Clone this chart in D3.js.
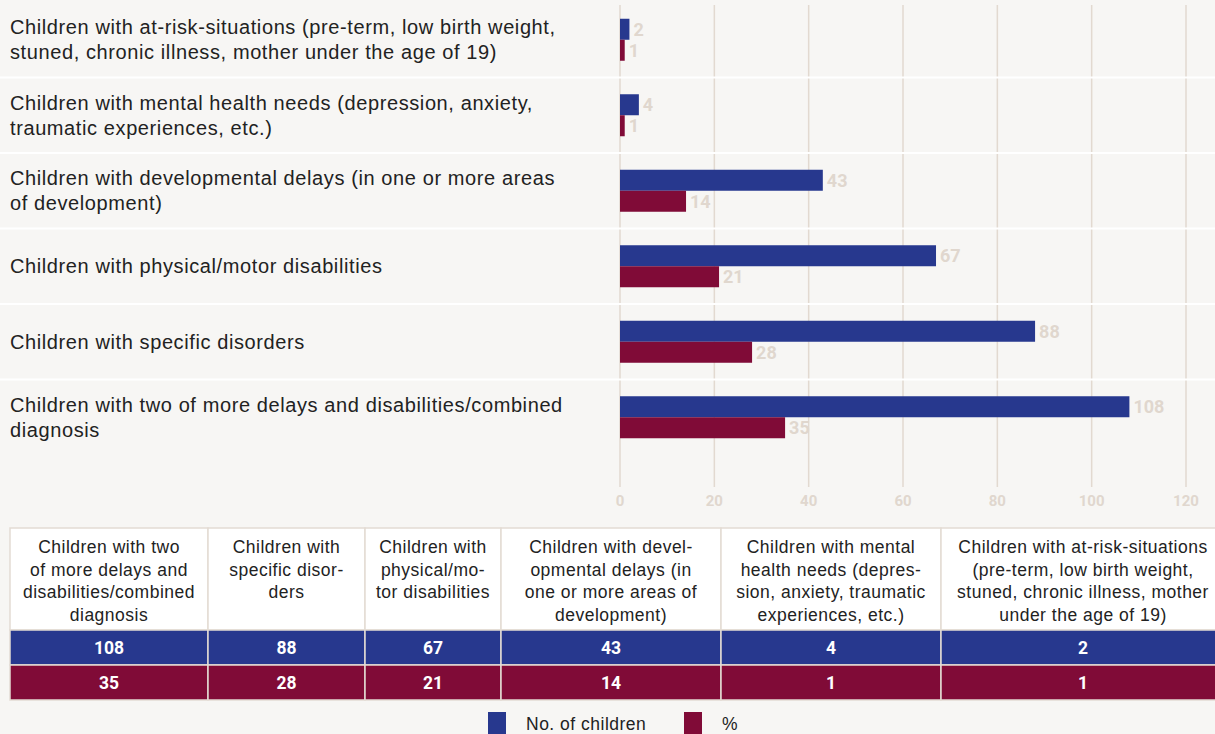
<!doctype html>
<html>
  <head>
    <meta charset="utf-8">
    <title>Children by type of need</title>
    <script src="https://cdnjs.cloudflare.com/ajax/libs/d3/7.8.5/d3.min.js"></script>
    <style>
      body { margin: 0; background: #f7f6f4; font-family: "Liberation Sans", Arial, sans-serif; }
      svg { display: block; }
      .num { font-family: Roboto, "Liberation Sans", sans-serif; font-weight: 700; }
    </style>
  </head>
  <body>
    <div id="chart"></div>
    <script>
      // data, top to bottom in the bar chart
      const categories = [
        ["Children with at-risk-situations (pre-term, low birth weight,", "stuned, chronic illness, mother under the age of 19)"],
        ["Children with mental health needs (depression, anxiety,", "traumatic experiences, etc.)"],
        ["Children with developmental delays (in one or more areas", "of development)"],
        ["Children with physical/motor disabilities"],
        ["Children with specific disorders"],
        ["Children with two of more delays and disabilities/combined", "diagnosis"]
      ];
      const children = [2, 4, 43, 67, 88, 108];
      const percent = [1, 1, 14, 21, 28, 35];
      const xTicks = [0, 20, 40, 60, 80, 100, 120];

      // table header text (table runs in reverse order)
      const tableHeaders = [
        ["Children with two", "of more delays and", "disabilities/combined", "diagnosis"],
        ["Children with", "specific disor-", "ders"],
        ["Children with", "physical/mo-", "tor disabilities"],
        ["Children with devel-", "opmental delays (in", "one or more areas of", "development)"],
        ["Children with mental", "health needs (depres-", "sion, anxiety, traumatic", "experiences, etc.)"],
        ["Children with at-risk-situations", "(pre-term, low birth weight,", "stuned, chronic illness, mother", "under the age of 19)"]
      ];
      const seriesNames = ["No. of children", "%"];
      const colors = ["#27388e", "#800b37"];

      const W = 1215, H = 734;
      const svg = d3.select('#chart').append('svg')
        .attr('width', W).attr('height', H);

      const x = d3.scaleLinear().domain([0, 120]).range([620, 1186]);
      const y = d3.scaleBand().domain(d3.range(categories.length)).range([2, 455]);
      const grid = '#e2d9d0', light = '#e0d7ce', ink = '#222222';

      // grid lines
      svg.append('g').selectAll('line').data(xTicks).join('line')
        .attr('x1', d => x(d)).attr('x2', d => x(d))
        .attr('y1', 5).attr('y2', 487)
        .attr('stroke', grid).attr('stroke-width', 1.5);

      // row separators
      svg.append('g').selectAll('line').data(d3.range(1, categories.length)).join('line')
        .attr('x1', 0).attr('x2', W)
        .attr('y1', d => y(d)).attr('y2', d => y(d))
        .attr('stroke', '#ffffff').attr('stroke-width', 2);

      // axis labels
      svg.append('g').selectAll('text').data(xTicks).join('text')
        .attr('class', 'num')
        .attr('x', d => x(d)).attr('y', 506)
        .attr('text-anchor', 'middle')
        .attr('font-size', 15)
        .attr('fill', light)
        .text(d => d);

      // category labels
      const lab = svg.append('g').selectAll('text').data(categories).join('text')
        .attr('font-size', 20).attr('letter-spacing', 0.6).attr('fill', ink)
        .attr('transform', (d, i) => {
          const cy = y(i) + y.bandwidth() / 2 - (d.length - 1) * 12.5;
          return `translate(10,${cy})`;
        });
      lab.selectAll('tspan').data(d => d).join('tspan')
        .attr('x', 0).attr('dy', (d, i) => i === 0 ? '0.35em' : 25)
        .text(d => d);

      // bars
      const barH = 21;
      [children, percent].forEach((vals, s) => {
        const g = svg.append('g');
        g.selectAll('rect').data(vals).join('rect')
          .attr('x', x(0))
          .attr('y', (d, i) => y(i) + y.bandwidth() / 2 - barH + s * barH)
          .attr('width', d => x(d) - x(0))
          .attr('height', barH)
          .attr('fill', colors[s]);
        g.selectAll('text').data(vals).join('text')
          .attr('class', 'num')
          .attr('x', d => x(d) + 4)
          .attr('y', (d, i) => y(i) + y.bandwidth() / 2 - barH / 2 + s * barH)
          .attr('dy', '0.36em')
          .attr('font-size', 18)
          .attr('fill', light)
          .text(d => d);
      });

      // table
      const colEdges = [10, 208, 365, 501, 721, 941, 1225];
      const tTop = 528, headH = 102, rowH = 35;
      const tRows = [children.slice().reverse(), percent.slice().reverse()];
      const table = svg.append('g');
      tableHeaders.forEach((lines, c) => {
        const x0 = colEdges[c], x1 = colEdges[c + 1];
        table.append('rect')
          .attr('x', x0).attr('y', tTop).attr('width', x1 - x0).attr('height', headH)
          .attr('fill', '#ffffff').attr('stroke', '#e3dbd3').attr('stroke-width', 1.5);
        const t = table.append('text')
          .attr('x', (x0 + x1) / 2)
          .attr('y', tTop + 19)
          .attr('text-anchor', 'middle')
          .attr('font-size', 17.5).attr('letter-spacing', 0.5).attr('fill', ink);
        t.selectAll('tspan').data(lines).join('tspan')
          .attr('x', (x0 + x1) / 2).attr('dy', (d, i) => i === 0 ? '0.35em' : 22.5)
          .text(d => d);
        tRows.forEach((row, r) => {
          const ry = tTop + headH + r * rowH;
          table.append('rect')
            .attr('x', x0).attr('y', ry).attr('width', x1 - x0).attr('height', rowH)
            .attr('fill', colors[r]).attr('stroke', '#e3dbd3').attr('stroke-width', 1.5);
          table.append('text')
            .attr('class', 'num')
            .attr('x', (x0 + x1) / 2).attr('y', ry + rowH / 2)
            .attr('dy', '0.36em').attr('text-anchor', 'middle')
            .attr('font-size', 17.5).attr('fill', '#ffffff')
            .text(row[c]);
        });
      });

      // legend
      const leg = svg.append('g').selectAll('g').data(seriesNames).join('g')
        .attr('transform', (d, i) => `translate(${488 + i * 196},712)`);
      leg.append('rect').attr('width', 18).attr('height', 24).attr('fill', (d, i) => colors[i]);
      leg.append('text').attr('x', 38).attr('y', 12).attr('dy', '0.36em')
        .attr('font-size', 17.5).attr('letter-spacing', 0.5).attr('fill', ink)
        .text(d => d);
    </script>
  </body>
</html>
